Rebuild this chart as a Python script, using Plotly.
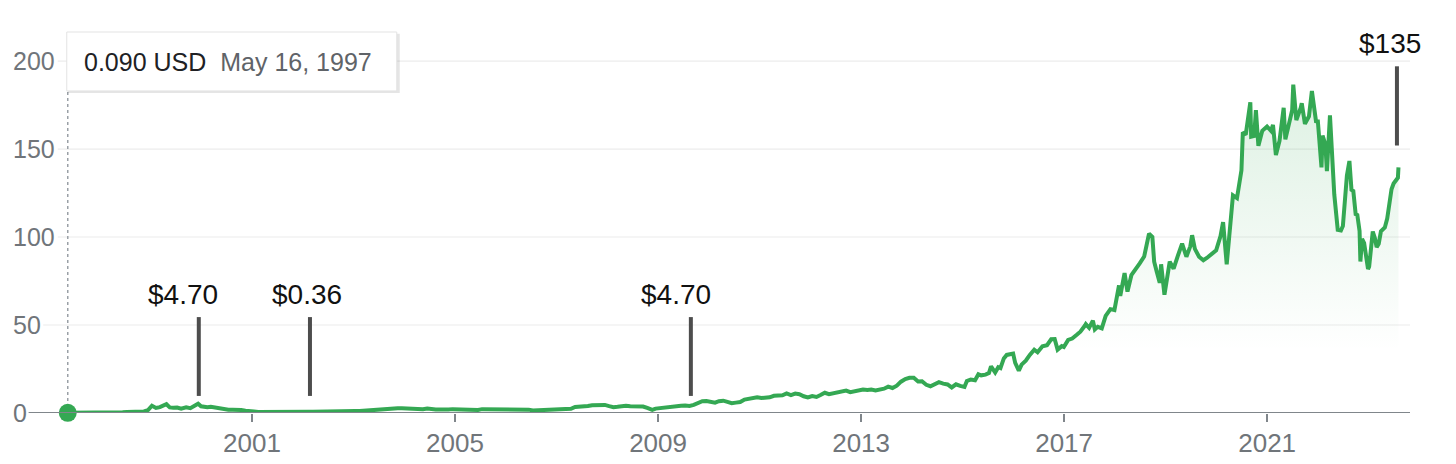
import plotly.graph_objects as go

# ---------------- data ----------------
dates = [
    "1997-05-16", "1997-06-15", "1997-07-15", "1997-08-15", "1997-09-15", "1997-10-15", "1997-11-15", "1997-12-15",
    "1998-01-15", "1998-02-15", "1998-03-15", "1998-04-15", "1998-05-15", "1998-06-15", "1998-07-15", "1998-08-15",
    "1998-09-15", "1998-10-15", "1998-11-15", "1998-12-15",
    "1999-01-12", "1999-02-10", "1999-03-10", "1999-04-26", "1999-05-20", "1999-06-15", "1999-07-12", "1999-08-10",
    "1999-09-15", "1999-10-15", "1999-11-20", "1999-12-10", "1999-12-31",
    "2000-01-25", "2000-02-15", "2000-03-10", "2000-04-15", "2000-05-15", "2000-06-15", "2000-07-15", "2000-08-15",
    "2000-09-15", "2000-10-15", "2000-11-15", "2000-12-15",
    "2001-01-15", "2001-02-15", "2001-03-15", "2001-04-15", "2001-05-15", "2001-06-15", "2001-07-15", "2001-08-15",
    "2001-09-28", "2001-10-15", "2001-11-15", "2001-12-15",
    "2002-01-15", "2002-02-15", "2002-03-15", "2002-04-15", "2002-05-15", "2002-06-15", "2002-07-15", "2002-08-15",
    "2002-09-15", "2002-10-15", "2002-11-15", "2002-12-15",
    "2003-01-15", "2003-02-15", "2003-03-15", "2003-04-15", "2003-05-15", "2003-06-15", "2003-07-15", "2003-08-15",
    "2003-09-15", "2003-10-15", "2003-11-15", "2003-12-15",
    "2004-01-15", "2004-02-15", "2004-03-15", "2004-04-15", "2004-05-15", "2004-06-15", "2004-07-15", "2004-08-15",
    "2004-09-15", "2004-10-15", "2004-11-15", "2004-12-15",
    "2005-01-15", "2005-02-15", "2005-03-15", "2005-04-15", "2005-05-15", "2005-06-15", "2005-07-15", "2005-08-15",
    "2005-09-15", "2005-10-15", "2005-11-15", "2005-12-15",
    "2006-01-15", "2006-02-15", "2006-03-15", "2006-04-15", "2006-05-15", "2006-06-15", "2006-07-15", "2006-08-15",
    "2006-09-15", "2006-10-15", "2006-11-15", "2006-12-15",
    "2007-01-15", "2007-02-15", "2007-03-15", "2007-04-15", "2007-05-15", "2007-06-15", "2007-07-15", "2007-08-15",
    "2007-09-15", "2007-10-15", "2007-11-15", "2007-12-15",
    "2008-01-15", "2008-02-15", "2008-03-15", "2008-04-15", "2008-05-15", "2008-06-15", "2008-07-15", "2008-08-15",
    "2008-09-15", "2008-10-15", "2008-11-20", "2008-12-15",
    "2009-01-15", "2009-02-15", "2009-03-15", "2009-04-15", "2009-05-15", "2009-06-15", "2009-07-15", "2009-08-15",
    "2009-09-15", "2009-10-15", "2009-11-15", "2009-12-15",
    "2010-01-15", "2010-02-15", "2010-03-15", "2010-04-15", "2010-05-15", "2010-06-15", "2010-07-15", "2010-08-15",
    "2010-09-15", "2010-10-15", "2010-11-15", "2010-12-15",
    "2011-01-15", "2011-02-15", "2011-03-15", "2011-04-15", "2011-05-15", "2011-06-15", "2011-07-15", "2011-08-15",
    "2011-09-15", "2011-10-15", "2011-11-15", "2011-12-15",
    "2012-01-15", "2012-02-15", "2012-03-15", "2012-04-15", "2012-05-15", "2012-06-15", "2012-07-15", "2012-08-15",
    "2012-09-15", "2012-10-15", "2012-11-15", "2012-12-15",
    "2013-01-15", "2013-02-15", "2013-03-15", "2013-04-15", "2013-05-15", "2013-06-15", "2013-07-15", "2013-08-15",
    "2013-09-15", "2013-10-15", "2013-11-15", "2013-12-15",
    "2014-01-15", "2014-02-15", "2014-03-15", "2014-04-15", "2014-05-15", "2014-06-15", "2014-07-15", "2014-08-15",
    "2014-09-15", "2014-10-15", "2014-11-15", "2014-12-15",
    "2015-01-15", "2015-02-01", "2015-03-01", "2015-04-01", "2015-04-25", "2015-05-15", "2015-06-15", "2015-07-10",
    "2015-07-25", "2015-08-24", "2015-09-15", "2015-10-01", "2015-10-25", "2015-11-15", "2015-12-10", "2015-12-31",
    "2016-01-15", "2016-02-10", "2016-03-01", "2016-03-31", "2016-04-29", "2016-05-31", "2016-06-24", "2016-07-29",
    "2016-08-31", "2016-09-30", "2016-10-25", "2016-11-15", "2016-12-15", "2016-12-30",
    "2017-01-30", "2017-02-28", "2017-03-31", "2017-04-28", "2017-05-31", "2017-06-06", "2017-06-30", "2017-07-27",
    "2017-08-10", "2017-08-31", "2017-09-29", "2017-10-27", "2017-11-30", "2017-12-29",
    "2018-01-31", "2018-02-09", "2018-03-12", "2018-04-02", "2018-04-30", "2018-05-31", "2018-06-29", "2018-07-31",
    "2018-08-31", "2018-09-04", "2018-09-28", "2018-10-11", "2018-10-31", "2018-11-20", "2018-11-30", "2018-12-24",
    "2019-01-31", "2019-02-28", "2019-03-29", "2019-04-30", "2019-05-31", "2019-06-28", "2019-07-11", "2019-07-31",
    "2019-08-30", "2019-09-30", "2019-10-25", "2019-11-29", "2019-12-31",
    "2020-01-31", "2020-02-19", "2020-03-16", "2020-03-31", "2020-04-14", "2020-04-30", "2020-05-29", "2020-06-30",
    "2020-07-10", "2020-07-31", "2020-09-02", "2020-09-08", "2020-09-30", "2020-10-12", "2020-10-30", "2020-11-27",
    "2020-12-31",
    "2021-01-29", "2021-02-12", "2021-03-05", "2021-03-31", "2021-04-30", "2021-05-12", "2021-05-28", "2021-06-30",
    "2021-07-08", "2021-07-30", "2021-08-31", "2021-09-07", "2021-09-30", "2021-10-29", "2021-11-19", "2021-11-30",
    "2021-12-20", "2021-12-31",
    "2022-01-27", "2022-02-04", "2022-02-24", "2022-03-07", "2022-03-29", "2022-04-29", "2022-05-24", "2022-06-16",
    "2022-06-30", "2022-07-29", "2022-08-16", "2022-08-31", "2022-09-13", "2022-09-30", "2022-10-12", "2022-10-28",
    "2022-11-03", "2022-11-15", "2022-11-30", "2022-12-28",
    "2023-01-05", "2023-01-31", "2023-02-15", "2023-02-28", "2023-03-15", "2023-03-31", "2023-04-28", "2023-05-15",
    "2023-05-31", "2023-06-15", "2023-06-30", "2023-07-18", "2023-07-31", "2023-08-04",
]

prices = [
    0.09, 0.08, 0.10, 0.10, 0.15, 0.22, 0.19, 0.14,
    0.12, 0.15, 0.22, 0.37, 0.40, 0.43, 0.62, 0.56,
    0.50, 0.55, 0.90, 1.65,
    4.1, 2.9, 3.3, 5.0, 3.2, 3.0, 3.1, 2.4,
    3.2, 2.7, 4.2, 5.3, 3.8,
    3.3, 3.3, 3.5, 2.9, 2.4, 2.0, 1.8, 1.9,
    2.0, 1.7, 1.3, 0.80,
    0.85, 0.55, 0.52, 0.70, 0.82, 0.70, 0.65, 0.45,
    0.28, 0.35, 0.48, 0.55,
    0.62, 0.70, 0.75, 0.84, 0.90, 0.82, 0.70, 0.72,
    0.80, 0.95, 1.15, 1.00,
    1.08, 1.10, 1.30, 1.45, 1.75, 1.85, 2.05, 2.30,
    2.45, 2.75, 2.70, 2.65,
    2.55, 2.05, 2.15, 2.20, 2.15, 2.60, 2.00, 1.95,
    2.05, 1.80, 2.00, 2.20,
    2.15, 1.80, 1.75, 1.65, 1.75, 1.70, 2.20, 2.15,
    2.25, 2.05, 2.40, 2.40,
    2.25, 1.90, 1.80, 1.75, 1.75, 1.90, 1.40, 1.50,
    1.60, 1.90, 2.05, 1.95,
    1.90, 1.95, 2.00, 2.40, 3.45, 3.45, 3.80, 3.95,
    4.40, 4.60, 4.50, 4.60,
    3.90, 3.30, 3.50, 3.90, 4.05, 3.80, 3.80, 4.10,
    3.70, 2.90, 1.75, 2.50,
    2.80, 3.20, 3.50, 4.00, 3.90, 4.15, 4.30, 4.05,
    4.60, 5.90, 6.70, 6.75,
    6.30, 5.90, 6.70, 7.00, 6.30, 5.60, 5.90, 6.20,
    7.60, 8.20, 8.70, 8.90,
    8.50, 8.70, 8.90, 9.80, 9.90, 10.10, 11.10, 10.20,
    11.00, 10.70, 9.50, 8.80,
    9.60, 9.10, 10.20, 11.50, 10.70, 11.30, 11.60, 12.30,
    12.70, 11.80, 12.40, 12.60,
    13.30, 13.10, 13.30, 12.80, 13.40, 13.80, 15.00, 14.20,
    15.50, 17.80, 19.30, 20.00,
    20.00, 17.90, 18.00, 16.00, 15.20, 16.20, 17.50, 16.70,
    16.20, 14.50, 16.30, 15.40,
    14.80, 18.20, 19.00, 18.60, 22.00, 21.40, 21.80, 22.70,
    26.50, 23.00, 26.00, 25.50, 31.00, 33.00, 33.50, 33.80,
    28.50, 24.10, 27.50, 29.70, 33.00, 36.00, 34.50, 37.90,
    38.50, 41.90, 42.00, 36.00, 38.00, 37.50,
    41.50, 42.30, 44.30, 46.20, 49.70, 50.50, 48.40, 52.50,
    47.50, 49.00, 48.10, 55.20, 59.00, 58.50,
    72.50, 66.50, 79.50, 69.00, 78.30, 81.50, 85.00, 88.90,
    100.60, 101.90, 100.10, 86.00, 79.90, 74.00, 84.50, 67.20,
    86.00, 82.00, 89.00, 96.30, 88.80, 94.70, 101.00, 93.30,
    88.80, 86.80, 88.10, 90.00, 92.40,
    100.40, 108.40, 84.50, 97.50, 114.00, 123.70, 122.10, 137.90,
    159.50, 158.20, 176.60, 157.00, 157.40, 172.10, 151.80, 160.40,
    162.80,
    160.30, 163.70, 146.60, 154.70, 173.40, 155.50, 161.20, 172.00,
    186.60, 166.40, 173.50, 176.00, 164.30, 168.60, 183.00, 175.40,
    165.00, 166.70,
    139.60, 157.60, 152.60, 137.50, 169.10, 124.30, 104.10, 103.70,
    106.20, 135.00, 143.20, 126.80, 126.20, 113.00, 112.50, 103.40,
    86.10, 98.90, 96.50, 81.80,
    83.10, 103.10, 99.50, 94.20, 96.20, 103.30, 105.40, 110.50,
    120.60, 127.10, 130.40, 132.80, 133.70, 139.60,
]

marker_dates = ["1999-12-15", "2002-02-22", "2009-08-25", "2023-07-24"]
marker_text_dates = ["1999-08-25", "2002-01-30", "2009-05-08", "2023-06-03"]
marker_labels = ["$4.70", "$0.36", "$4.70", "$135"]

y_tick_values = [0, 50, 100, 150, 200]
y_tick_labels = ["0", "50", "100", "150", "200"]
x_tick_dates = ["2001-01-01", "2005-01-01", "2009-01-01", "2013-01-01", "2017-01-01", "2021-01-01"]
x_tick_labels = ["2001", "2005", "2009", "2013", "2017", "2021"]

tooltip_value = "0.090 USD"
tooltip_date = "May 16, 1997"

# ---------------- style ----------------
GREEN = "#34a853"
GRAY_TXT = "#70757a"
FONT = "Arial, Liberation Sans, sans-serif"
BODY = 8                            # default page margin of the html body
W, H = 1456 - BODY, 464 - BODY
PLOT_L, PLOT_R = 13 - BODY, 1410 - BODY   # plotting area, figure pixels
PLOT_T, PLOT_B = 10 - BODY, 413 - BODY
PLOT_W = PLOT_R - PLOT_L

fig = go.Figure()

fig.add_trace(go.Scatter(
    x=dates, y=prices, mode="lines",
    line=dict(color=GREEN, width=4),
    fill="tozeroy",
    fillgradient=dict(type="vertical",
                      colorscale=[[0, "rgba(52,168,83,0)"], [1, "rgba(52,168,83,0.17)"]],
                      start=35, stop=190),
    cliponaxis=False, hoverinfo="skip", showlegend=False,
))

fig.add_trace(go.Scatter(
    x=[dates[0]], y=[prices[0]], mode="markers",
    marker=dict(color=GREEN, size=18),
    cliponaxis=False, hoverinfo="skip", showlegend=False,
))

shapes = []
annotations = []

# gridlines that start right after each label, and y labels
for v, lab in zip(y_tick_values, y_tick_labels):
    start_px = len(lab) * 14.6 + 1
    x0 = start_px / PLOT_W
    if v == 0:
        shapes.append(dict(type="line", xref="paper", yref="y", x0=x0, x1=1, y0=0, y1=0,
                           line=dict(color="#80868b", width=2), layer="above"))
    else:
        shapes.append(dict(type="line", xref="paper", yref="y", x0=x0, x1=1, y0=v, y1=v,
                           line=dict(color="#ececec", width=1.2), layer="below"))
    annotations.append(dict(text=lab, xref="paper", yref="y", x=0, y=v, xanchor="left", yanchor="middle",
                            showarrow=False, font=dict(size=25, color=GRAY_TXT, family=FONT),
                            xshift=-1, borderpad=0))

# event markers
for i, (d, td, lab) in enumerate(zip(marker_dates, marker_text_dates, marker_labels)):
    high = i == len(marker_labels) - 1
    y0, y1, ty = (152, 197, 210) if high else (9.7, 54.5, 67.5)
    shapes.append(dict(type="line", xref="x", yref="y", x0=d, x1=d, y0=y0, y1=y1,
                       line=dict(color="#4d4d4d", width=4)))
    annotations.append(dict(text=lab, xref="x", yref="y", x=td, y=ty, xanchor="center", yanchor="middle",
                            showarrow=False, font=dict(size=28, color="#111111", family=FONT)))

# tooltip: dotted crosshair, shadow, box, text
shapes.append(dict(type="line", xref="x", yref="y", x0=dates[0], x1=dates[0], y0=0, y1=183,
                   line=dict(color="#9aa0a6", width=1.5, dash="dot"), layer="below"))
shapes.append(dict(type="rect", xref="x", yref="y", xsizemode="pixel", xanchor=dates[0],
                   x0=0, x1=332, y0=181.8, y1=215.5,
                   fillcolor="rgba(0,0,0,0.10)", line=dict(width=0)))
shapes.append(dict(type="rect", xref="x", yref="y", xsizemode="pixel", xanchor=dates[0],
                   x0=-1, x1=329, y0=183, y1=216.5,
                   fillcolor="white", line=dict(color="#e3e3e3", width=1)))
annotations.append(dict(
    text=f"<span style='color:#202124'>{tooltip_value}</span>&nbsp;&nbsp;"
         f"<span style='color:#5f6368'>{tooltip_date}</span>",
    xref="x", yref="y", x=dates[0], y=199.5, xanchor="left", yanchor="middle",
    xshift=14, showarrow=False, font=dict(size=25, family=FONT)))

fig.update_layout(
    width=W, height=H,
    margin=dict(l=PLOT_L, r=W - PLOT_R, t=PLOT_T, b=H - PLOT_B, autoexpand=False),
    paper_bgcolor="white", plot_bgcolor="white",
    shapes=shapes, annotations=annotations,
    xaxis=dict(type="date", range=["1996-04-17", "2023-10-26"], automargin=False,
               tickvals=x_tick_dates, ticktext=x_tick_labels,
               ticks="outside", ticklen=8, tickwidth=1.5, tickcolor="#80868b",
               ticklabelstandoff=-1,
               showgrid=False, zeroline=False, showline=False,
               tickfont=dict(size=26, color=GRAY_TXT, family=FONT)),
    yaxis=dict(range=[0, 229], automargin=False, showgrid=False, zeroline=False, showline=False,
               showticklabels=False, ticks=""),
    hovermode=False,
)

fig.write_html("out.html", config={"displayModeBar": False})
